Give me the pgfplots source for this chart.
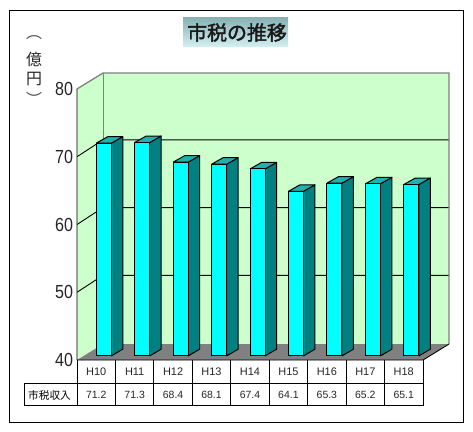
\documentclass[border=0pt]{standalone}
\usepackage{pgfplots}
\pgfplotsset{compat=1.18}
\usepackage{fontspec}
\setmainfont{Liberation Sans}
\newfontfamily\cjk{Noto Sans CJK JP}
\newfontfamily\cjktitle[FakeBold=2]{Noto Sans CJK JP}

\definecolor{wallgreen}{HTML}{CCFFCC}
\definecolor{floorgray}{HTML}{808080}
\definecolor{barfront}{HTML}{00FFFF}
\definecolor{barside}{HTML}{008080}
\definecolor{bartop}{HTML}{1FB0B0}
\definecolor{titletop}{HTML}{86B0B4}
\definecolor{titlemid}{HTML}{BCDFE0}
\definecolor{titlebot}{HTML}{D0EEEE}

% one 3D bar: #1 = category index, #2 = value
\newcommand{\tdbar}[2]{%
  \pgfmathsetmacro{\xa}{#1+0.5}%
  \pgfmathsetmacro{\xb}{#1+0.89}%
  \pgfmathsetmacro{\xc}{#1+1.19}%
  \pgfmathsetmacro{\xd}{#1+0.8}%
  \pgfmathsetmacro{\yt}{#2+0.8}%
  \pgfmathsetmacro{\ytt}{#2+1.76}%
  \addplot[fill=barside,draw=black,line width=1bp,line join=round]
    coordinates {(\xb,40.6) (\xc,41.6) (\xc,\ytt) (\xb,\yt) (\xb,40.6)};
  \addplot[fill=bartop,draw=black,line width=1bp,line join=round]
    coordinates {(\xa,\yt) (\xb,\yt) (\xc,\ytt) (\xd,\ytt) (\xa,\yt)};
  \addplot[fill=barfront,draw=black,line width=1bp,line join=round]
    coordinates {(\xa,40.6) (\xb,40.6) (\xb,\yt) (\xa,\yt) (\xa,40.6)};
}

\begin{document}
\begin{tikzpicture}
\begin{scope}[x=1bp,y=-1bp]
  \path[use as bounding box,fill=white] (0,0) rectangle (473,431);
  \draw[black,line width=0.9bp] (9.5,10) rectangle (463,422);
  % title
  \shade[top color=titletop,middle color=titlemid,bottom color=titlebot]
    (183,17) rectangle (288,46);
  \node[font=\cjktitle\fontsize{20}{20}\selectfont,inner sep=0,text=black!90] at (237,32.5) {市税の推移};
  % unit label
  \node[font=\cjk\fontsize{16}{16}\selectfont,inner sep=0,text=black!70] at (34,38) {︵};
  \node[font=\cjk\fontsize{16}{16}\selectfont,inner sep=0,text=black!85] at (34,59) {億};
  \node[font=\cjk\fontsize{16}{16}\selectfont,inner sep=0,text=black!85] at (34,79) {円};
  \node[font=\cjk\fontsize{16}{16}\selectfont,inner sep=0,text=black!70] at (34,99) {︶};
\end{scope}

\begin{axis}[
    at={(77bp,-360bp)}, anchor=south west,
    scale only axis, width=372bp, height=287bp,
    xmin=0, xmax=9.676, ymin=40, ymax=82.36,
    clip=false,
    axis line style={draw=none},
    xtick=\empty,
    ytick={40,50,60,70,80},
    major tick length=0pt,
    /pgf/number format/assume math mode=true,
    yticklabel style={font=\fontsize{19}{19}\selectfont,xscale=0.85,inner sep=0pt,xshift=-4.5bp,text=black!85},
  ]
  % floor and walls
  \addplot[fill=wallgreen,draw=none] coordinates {(0,40) (0.676,42.36) (0.676,82.36) (0,80) (0,40)};
  \addplot[fill=wallgreen,draw=none] coordinates {(0.676,42.36) (9.676,42.36) (9.676,82.36) (0.676,82.36) (0.676,42.36)};
  \addplot[fill=floorgray,draw=none] coordinates {(0,40) (0.676,42.36) (9.676,42.36) (9,40) (0,40)};
  % grid
  \addplot[black,line width=0.9bp] coordinates {(0,50) (0.676,52.5) (9.676,52.5)};
  \addplot[black,line width=0.9bp] coordinates {(0,60) (0.676,62.5) (9.676,62.5)};
  \addplot[black,line width=0.9bp] coordinates {(0,70) (0.676,72.5) (9.676,72.5)};
  \addplot[floorgray,line width=1.3bp] coordinates {(0,80) (0.676,82.36) (9.676,82.36) (9.676,42.36)};
  \addplot[floorgray,line width=0.8bp] coordinates {(0.676,82.36) (0.676,72.5)};
  \addplot[black,line width=0.9bp] coordinates {(0,80) (0,40) (9,40) (9.676,42.36)};
  % bars
  \tdbar{0}{71.2}
  \tdbar{1}{71.3}
  \tdbar{2}{68.4}
  \tdbar{3}{68.1}
  \tdbar{4}{67.4}
  \tdbar{5}{64.1}
  \tdbar{6}{65.3}
  \tdbar{7}{65.2}
  \tdbar{8}{65.1}
\end{axis}

% data table under the chart
\begin{scope}[x=1bp,y=-1bp]
  \draw[black,line width=0.8bp] (77,383) -- (423,383);
  \draw[black,line width=0.8bp] (24.5,383) rectangle (423,405.7);
  \draw[black,line width=0.8bp] (423,360) -- (423,383);
  \foreach \i in {0,...,8} {
    \draw[black,line width=0.8bp] ({77+38.44*\i},360) -- ({77+38.44*\i},405.7);
  }
  \node[font=\cjk\fontsize{10.7}{10.7}\selectfont,inner sep=0] at (49.5,395) {市税収入};
  \foreach \i/\n/\v in {0/H10/71.2,1/H11/71.3,2/H12/68.4,3/H13/68.1,4/H14/67.4,5/H15/64.1,6/H16/65.3,7/H17/65.2,8/H18/65.1} {
    \node[font=\fontsize{11}{11}\selectfont,inner sep=0,text=black!85] at ({77+38.44*(\i+0.5)},372) {\n};
    \node[font=\fontsize{10.5}{10.5}\selectfont,inner sep=0,text=black!85] at ({77+38.44*(\i+0.5)},395) {\v};
  }
\end{scope}
\end{tikzpicture}
\end{document}
